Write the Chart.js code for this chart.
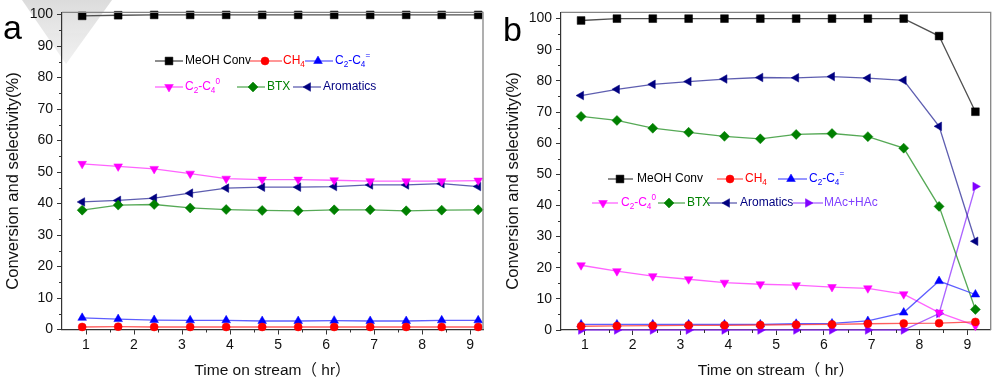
<!DOCTYPE html>
<html><head><meta charset="utf-8">
<script src="https://cdn.jsdelivr.net/npm/chart.js@4/dist/chart.umd.min.js"></script>
<style>
html,body{margin:0;padding:0;background:#fff;}
#wrap{position:relative;width:999px;height:383px;overflow:hidden;background:#fff;}
canvas{position:absolute;top:0;}
#ca{left:0;} #cb{left:500px;}
</style></head><body>
<div id="wrap"><canvas id="ca" width="500" height="383"></canvas><canvas id="cb" width="499" height="383"></canvas></div>
<script>
// ---------- data ----------
const times = [0.92, 1.67, 2.42, 3.17, 3.92, 4.67, 5.42, 6.17, 6.92, 7.67, 8.41, 9.17];
const seriesNames = ['MeOH Conv', 'CH₄', 'C₂-C₄⁼', 'C₂-C₄⁰', 'BTX', 'Aromatics', 'MAc+HAc'];
const xTitle = 'Time on stream（ hr）';
const yTitle = 'Conversion and selectivity(%)';
const panelLetters = ['a', 'b'];

// panel a
const meohA = [99.6, 99.8, 99.9, 99.9, 99.9, 99.9, 99.9, 99.9, 99.9, 99.9, 99.9, 99.9];
const ch4A  = [0.8, 0.9, 0.8, 0.8, 0.8, 0.8, 0.8, 0.8, 0.8, 0.8, 0.8, 0.8];
const oleA  = [3.7, 3.3, 3.0, 2.9, 2.9, 2.7, 2.7, 2.8, 2.7, 2.7, 2.9, 2.9];
const parA  = [52.6, 51.8, 51.0, 49.5, 47.9, 47.6, 47.6, 47.4, 47.1, 47.1, 47.1, 47.3];
const btxA  = [37.9, 39.5, 39.7, 38.6, 38.1, 37.8, 37.7, 38.0, 38.0, 37.7, 37.9, 38.0];
const aroA  = [40.5, 41.0, 41.7, 43.3, 44.9, 45.2, 45.2, 45.4, 45.9, 45.9, 46.3, 45.4];

// panel b
const meohB = [99.4, 100, 100, 100, 100, 100, 100, 100, 100, 100, 94.4, 70.1];
const ch4B  = [1.2, 1.3, 1.4, 1.5, 1.5, 1.6, 1.7, 1.8, 2.0, 2.1, 2.2, 2.6];
const oleB  = [1.8, 1.8, 1.8, 1.8, 1.8, 1.8, 2.0, 2.1, 2.9, 5.6, 15.7, 11.4];
const parB  = [20.8, 18.9, 17.3, 16.3, 15.2, 14.7, 14.4, 13.8, 13.4, 11.5, 5.6, 1.4];
const btxB  = [68.6, 67.3, 64.8, 63.5, 62.2, 61.4, 62.8, 63.1, 62.1, 58.4, 39.7, 6.6];
const aroB  = [75.3, 77.3, 78.9, 79.8, 80.6, 81.1, 81.0, 81.4, 80.9, 80.2, 65.4, 28.5];
const macB  = [0, 0, 0, 0, 0, 0, 0, 0, 0, 0, 5.3, 46.1];

// ---------- styles ----------
const seriesStyle = [
  {color:'#000000', text:'#000000', line:'#505050', style:'rect', rot:0, r:5.5},
  {color:'#ff0000', text:'#ff0000', line:'rgba(255,40,40,0.75)', style:'circle', rot:0, r:4},
  {color:'#0000ff', text:'#0000ff', line:'rgba(40,40,255,0.75)', style:'triangle', rot:0, r:5},
  {color:'#ff00ff', text:'#ff00ff', line:'rgba(255,60,255,0.8)', style:'triangle', rot:180, r:5},
  {color:'#008000', text:'#008000', line:'rgba(30,140,30,0.75)', style:'rectRot', rot:0, r:5},
  {color:'#000080', text:'#000080', line:'rgba(40,40,150,0.75)', style:'triangle', rot:-90, r:5},
  {color:'#8000ff', text:'#8040ff', line:'rgba(150,60,255,0.8)', style:'triangle', rot:90, r:5}
];
const labelParts = [
  [['MeOH Conv','n']],
  [['CH','n'],['4','sub']],
  [['C','n'],['2','sub'],['-C','n'],['4','sub'],['=','sup']],
  [['C','n'],['2','sub'],['-C','n'],['4','sub'],['0','sup']],
  [['BTX','n']],
  [['Aromatics','n']],
  [['MAc+HAc','n']]
];

const FONT = "'Liberation Sans', Arial, 'Noto Sans CJK SC', sans-serif";
Chart.defaults.font.family = FONT;

const panelCfg = {
  ca: {
    letter: panelLetters[0], letterX: 3, letterY: 39, letterSize: 34,
    yTitleX: 13, yTitleY: 181, watermark: true,
    legend: [
      {i:0, x0:155, x1:183, mx:169, tx:185, y:61},
      {i:1, x0:250, x1:282, mx:265, tx:283, y:61},
      {i:2, x0:305, x1:333, mx:318, tx:335, y:61},
      {i:3, x0:155, x1:183, mx:169, tx:185, y:87},
      {i:4, x0:237, x1:265, mx:253, tx:267, y:87},
      {i:5, x0:293, x1:321, mx:308, tx:323, y:87}
    ]
  },
  cb: {
    letter: panelLetters[1], letterX: 3, letterY: 41, letterSize: 34,
    yTitleX: 13, yTitleY: 181, watermark: false,
    legend: [
      {i:0, x0:108, x1:133, mx:120, tx:137, y:179},
      {i:1, x0:217, x1:243, mx:230, tx:245, y:179},
      {i:2, x0:278, x1:307, mx:291, tx:309, y:179},
      {i:3, x0:92, x1:118, mx:103, tx:121, y:203},
      {i:4, x0:158, x1:185, mx:169, tx:187, y:203},
      {i:5, x0:208, x1:237, mx:227, tx:240, y:203},
      {i:6, x0:293, x1:323, mx:308, tx:324, y:203}
    ]
  }
};

function drawRich(ctx, parts, x, y, color, size) {
  ctx.fillStyle = color;
  ctx.textBaseline = 'middle';
  ctx.textAlign = 'left';
  let cx = x;
  for (const [t, mode] of parts) {
    let fs = size, dy = 0;
    if (mode === 'sub') { fs = size * 0.68; dy = size * 0.32; }
    if (mode === 'sup') { fs = size * 0.68; dy = -size * 0.42; }
    ctx.font = fs + 'px ' + FONT;
    ctx.fillText(t, cx, y + dy);
    cx += ctx.measureText(t).width;
  }
}

const framePlugin = {
  id: 'frame',
  beforeDraw(chart) {
    const c = panelCfg[chart.canvas.id];
    if (!c || !c.watermark) return;
    const ctx = chart.ctx;
    ctx.save();
    const g = ctx.createLinearGradient(60, 0, 60, 66);
    g.addColorStop(0, 'rgba(214,214,214,0.85)');
    g.addColorStop(1, 'rgba(232,232,232,0.6)');
    ctx.fillStyle = g;
    ctx.beginPath();
    ctx.moveTo(22, 0); ctx.lineTo(112, 0); ctx.lineTo(66, 64); ctx.closePath();
    ctx.fill();
    ctx.restore();
  },
  afterDraw(chart) {
    const c = panelCfg[chart.canvas.id];
    const {ctx, chartArea: a, scales: {x, y}} = chart;
    ctx.save();
    // top and right frame
    ctx.strokeStyle = '#858585'; ctx.lineWidth = 1.3;
    ctx.beginPath();
    ctx.moveTo(a.left, a.top); ctx.lineTo(a.right, a.top); ctx.lineTo(a.right, a.bottom);
    ctx.stroke();
    // minor ticks
    ctx.strokeStyle = '#333'; ctx.lineWidth = 1;
    ctx.beginPath();
    for (let v = 5; v < y.max; v += 10) {
      const py = Math.round(y.getPixelForValue(v)) + 0.5;
      ctx.moveTo(a.left - 3, py); ctx.lineTo(a.left, py);
    }
    for (let v = 1.5; v < x.max; v += 1) {
      const px = Math.round(x.getPixelForValue(v)) + 0.5;
      ctx.moveTo(px, a.bottom); ctx.lineTo(px, a.bottom + 3);
    }
    ctx.stroke();
    // y title
    ctx.save();
    ctx.translate(c.yTitleX, c.yTitleY);
    ctx.rotate(-Math.PI / 2);
    ctx.font = '16.5px ' + FONT;
    ctx.fillStyle = '#111';
    ctx.textAlign = 'center'; ctx.textBaseline = 'middle';
    ctx.fillText(yTitle, 0, 0);
    ctx.restore();
    // panel letter
    ctx.font = c.letterSize + 'px ' + FONT;
    ctx.fillStyle = '#000';
    ctx.textAlign = 'left'; ctx.textBaseline = 'alphabetic';
    ctx.fillText(c.letter, c.letterX, c.letterY);
    // legend
    for (const it of c.legend) {
      const s = seriesStyle[it.i];
      ctx.strokeStyle = s.line; ctx.lineWidth = 1.3;
      ctx.beginPath(); ctx.moveTo(it.x0, it.y); ctx.lineTo(it.x1, it.y); ctx.stroke();
      ctx.fillStyle = s.color; ctx.strokeStyle = s.color; ctx.lineWidth = 0.5;
      Chart.helpers.drawPoint(ctx, {pointStyle: s.style, rotation: s.rot, radius: s.r, borderWidth: 0.5}, it.mx, it.y);
      drawRich(ctx, labelParts[it.i], it.tx, it.y, s.text, 12);
    }
    ctx.restore();
  }
};

function buildChart(id, seriesIdx, values, opt) {
  const datasets = values.map((vals, k) => {
    const s = seriesStyle[seriesIdx[k]];
    return {
      label: seriesNames[seriesIdx[k]],
      data: times.map((t, j) => ({x: t, y: vals[j]})),
      borderColor: s.line, backgroundColor: s.color,
      pointBackgroundColor: s.color, pointBorderColor: s.color,
      pointStyle: s.style, pointRotation: s.rot, pointRadius: s.r, pointBorderWidth: 0.5,
      borderWidth: 1.3, tension: 0, clip: false, fill: false
    };
  });
  return new Chart(document.getElementById(id), {
    type: 'line',
    data: {datasets},
    options: {
      responsive: false, animation: false, devicePixelRatio: 1,
      layout: {padding: {left: 0, top: opt.top, right: opt.right, bottom: 0}},
      plugins: {legend: {display: false}, tooltip: {enabled: false}},
      scales: {
        x: {
          type: 'linear', min: 0.5, max: opt.xMax,
          afterFit: (s) => { s.height = opt.xH; },
          grid: {drawOnChartArea: false, drawTicks: true, tickLength: 5, color: '#333'},
          border: {color: '#333', width: 1.2},
          ticks: {stepSize: 1, includeBounds: false, padding: 2, color: '#111', font: {size: 14}, maxRotation: 0, autoSkip: false},
          title: {display: true, text: xTitle, font: {size: 15.5}, color: '#111', padding: {top: 0, bottom: 3}}
        },
        y: {
          type: 'linear', min: 0, max: opt.yMax,
          afterFit: (s) => { s.width = opt.yW; },
          grid: {drawOnChartArea: false, drawTicks: true, tickLength: 5, color: '#333'},
          border: {color: '#333', width: 1.2},
          ticks: {stepSize: 10, includeBounds: false, padding: 4, color: '#111', font: {size: 14}, autoSkip: false}
        }
      }
    },
    plugins: [framePlugin]
  });
}

buildChart('ca', [0,1,2,3,4,5], [meohA, ch4A, oleA, parA, btxA, aroA],
  {top: 11, right: 17, xMax: 9.27, yMax: 100.7, xH: 53.5, yW: 62});
buildChart('cb', [0,1,2,3,4,5,6], [meohB, ch4B, oleB, parB, btxB, aroB, macB],
  {top: 10.4, right: 8.3, xMax: 9.49, yMax: 102, xH: 53, yW: 61});
</script>
</body></html>
